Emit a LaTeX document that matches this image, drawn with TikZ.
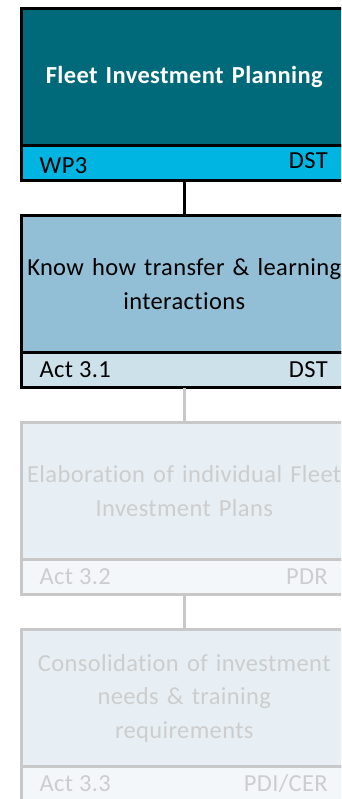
\documentclass[tikz,border=0pt]{standalone}
\usepackage{fontspec}
\setmainfont{Carlito}[RawFeature=-liga, LetterSpace=1.5]
\usepackage{tikz}
\usetikzlibrary{positioning}
\usepackage{xcolor}

\definecolor{wpteal}{RGB}{0,106,122}
\definecolor{wpcyan}{RGB}{0,181,226}
\definecolor{actblue}{RGB}{146,191,213}
\definecolor{actpale}{RGB}{205,225,235}
\definecolor{dimfill}{RGB}{231,239,244}
\definecolor{dimfoot}{RGB}{243,247,250}
\definecolor{dimline}{RGB}{200,200,200}
\definecolor{dimtext}{RGB}{205,205,205}

\begin{document}
\begin{tikzpicture}[x=1pt, y=-1pt,
    mainbox/.style={draw, line width=3pt, outer sep=0pt, minimum width=325.5pt, minimum height=137pt,
        text width=318pt, align=center, font=\fontsize{24.5}{33.5}\selectfont},
    footbox/.style={draw, line width=3pt, outer sep=0pt, minimum width=325.5pt, minimum height=35pt},
    foottxt/.style={inner sep=0pt, font=\fontsize{24.5}{28}\selectfont},
    dimmed/.style={draw=dimline, text=dimtext}]
    \useasboundingbox (0,0) rectangle (341,799);
    \clip (0,0) rectangle (341,799);
    % work package
    \node[mainbox, fill=wpteal, text=white, font=\fontsize{24.5}{33.5}\selectfont\bfseries] (wp) at (184.25,77) {Fleet Investment Planning};
    \node[footbox, fill=wpcyan, below=0pt of wp] (wpfoot) {};
    \node[foottxt, anchor=west, yshift=-3pt] (wpname) at ([xshift=18pt]wpfoot.west) {WP3};
    \node[foottxt, anchor=east, yshift=2pt] (wplead) at ([xshift=-19pt]wpfoot.east) {DST};
    % activities
    \node[mainbox, fill=actblue, below=35pt of wpfoot] (act1) {Know how transfer \& learning\\interactions};
    \node[footbox, fill=actpale, below=0pt of act1] (act1foot) {};
    \node[foottxt, anchor=west] (act1name) at ([xshift=18pt]act1foot.west) {Act 3.1};
    \node[foottxt, anchor=east] (act1lead) at ([xshift=-19pt]act1foot.east) {DST};
    \node[mainbox, dimmed, fill=dimfill, below=35pt of act1foot] (act2) {Elaboration of individual Fleet\\Investment Plans};
    \node[footbox, dimmed, fill=dimfoot, below=0pt of act2] (act2foot) {};
    \node[foottxt, text=dimtext, anchor=west] (act2name) at ([xshift=18pt]act2foot.west) {Act 3.2};
    \node[foottxt, text=dimtext, anchor=east] (act2lead) at ([xshift=-19pt]act2foot.east) {PDR};
    \node[mainbox, dimmed, fill=dimfill, below=35pt of act2foot] (act3) {Consolidation of investment\\needs \& training\\requirements};
    \node[footbox, dimmed, fill=dimfoot, below=0pt of act3] (act3foot) {};
    \node[foottxt, text=dimtext, anchor=west] (act3name) at ([xshift=18pt]act3foot.west) {Act 3.3};
    \node[foottxt, text=dimtext, anchor=east] (act3lead) at ([xshift=-19pt]act3foot.east) {PDI/CER};
    % links
    \draw[line width=3pt] (wpfoot.south) -- (act1.north);
    \draw[line width=3pt, dimline] (act1foot.south) -- (act2.north);
    \draw[line width=3pt, dimline] (act2foot.south) -- (act3.north);
\end{tikzpicture}
\end{document}
